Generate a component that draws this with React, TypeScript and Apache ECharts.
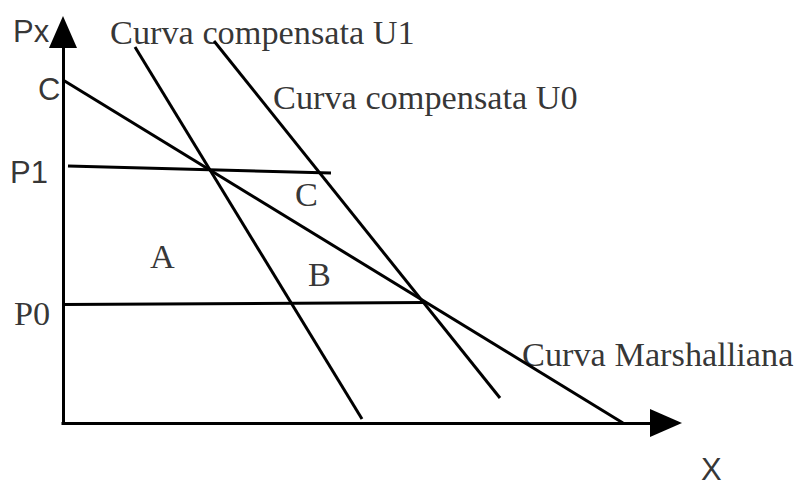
import React, { useEffect, useRef } from "react";
import * as echarts from "echarts";

// Axis extents (arbitrary units: quantity X, price Px)
const X_MAX = 60.3;
const Y_MAX = 39.1;

// Curves (endpoints of straight lines)
const marshalliana = [[0, 34.3], [56.0, 0]];
const compensataU1 = [[7.2, 37.6], [29.9, 0.4]];
const compensataU0 = [[15.1, 38.2], [43.7, 2.5]];
const priceP1 = [[0.5, 25.7], [26.8, 25.0]];
const priceP0 = [[0, 11.85], [36.2, 12.05]];

// Annotations
const labelTexts = ["Px", "C", "P1", "P0", "Curva compensata U1", "Curva compensata U0", "Curva Marshalliana", "X", "A", "B", "C"];
const labelX = [-5.0, -2.5, -5.3, -4.9, 4.7, 21.0, 45.9, 63.8, 8.7, 24.5, 23.2];
const labelY = [39.2, 33.4, 25.1, 11.0, 39.1, 32.65, 6.95, -4.6, 16.75, 14.9, 22.9];
const labelSerif = [false, false, false, true, true, true, true, false, true, true, true];

const SERIF = "'Liberation Serif', 'Times New Roman', serif";
const SANS = "'Liberation Sans', Arial, sans-serif";

export default function App() {
  const ref = useRef<HTMLDivElement>(null);
  useEffect(() => {
    if (!ref.current) return;
    const chart = echarts.init(ref.current, null, { renderer: "svg" });
    const lineStyle = { color: "#000", width: 3 };
    const seg = (name: string, data: number[][]) => ({
      name,
      type: "line",
      data,
      symbol: "none",
      lineStyle,
      silent: true,
      clip: false,
      z: 3,
    });
    const labelData = labelTexts.map((t, i) => ({
      value: [labelX[i], labelY[i]],
      label: {
        show: true,
        position: "inside",
        align: "left",
        verticalAlign: "middle",
        formatter: t,
        color: "#000",
        textBorderWidth: 0,
        fontFamily: labelSerif[i] ? SERIF : SANS,
        fontSize: labelSerif[i] ? 34.3 : 31,
        lineHeight: 25,
      },
    }));
    chart.setOption({
      animation: false,
      backgroundColor: "#fff",
      grid: { left: 63, right: 131, top: 32, bottom: 64 },
      xAxis: {
        type: "value",
        min: 0,
        max: X_MAX,
        axisLine: {
          show: true,
          onZero: false,
          symbol: ["none", "triangle"],
          symbolSize: [28, 32],
          lineStyle: { color: "#000", width: 3, cap: "square" },
        },
        axisTick: { show: false },
        axisLabel: { show: false },
        splitLine: { show: false },
      },
      yAxis: {
        type: "value",
        min: 0,
        max: Y_MAX,
        axisLine: {
          show: true,
          onZero: false,
          symbol: ["none", "triangle"],
          symbolSize: [28, 32],
          lineStyle: { color: "#000", width: 3, cap: "square" },
        },
        axisTick: { show: false },
        axisLabel: { show: false },
        splitLine: { show: false },
      },
      series: [
        seg("Curva Marshalliana", marshalliana),
        seg("Curva compensata U1", compensataU1),
        seg("Curva compensata U0", compensataU0),
        seg("P1", priceP1),
        seg("P0", priceP0),
        {
          type: "scatter",
          data: labelData,
          symbolSize: 0,
          silent: true,
          clip: false,
          z: 5,
        },
      ],
    });
    return () => chart.dispose();
  }, []);
  return (
    <div
      ref={ref}
      style={{ position: "absolute", left: 0, top: 0, width: 797, height: 487, background: "#fff" }}
    />
  );
}
